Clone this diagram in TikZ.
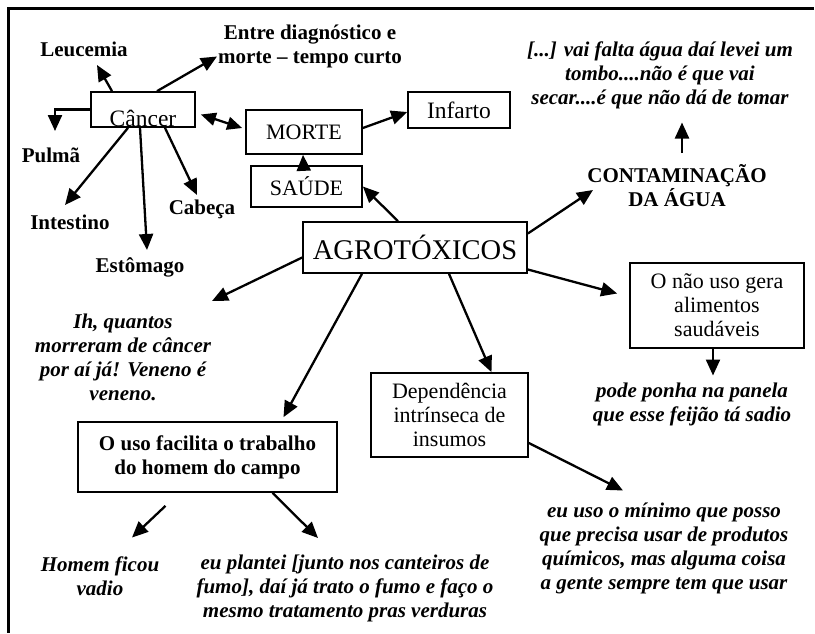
\documentclass[tikz,border=0pt]{standalone}
\usepackage{fontspec}
\setmainfont{Liberation Serif}
\usetikzlibrary{arrows.meta}

\begin{document}
\begin{tikzpicture}
[x=1pt,y=-1pt,line width=2.3pt,%
  every node/.style={align=center,inner sep=0pt},%
  box/.style={draw,line width=1.7pt,font=\fontsize{22}{24}\selectfont},%
  term/.style={font=\fontsize{21}{24}\selectfont\bfseries},%
  speech/.style={font=\fontsize{21}{24}\selectfont\bfseries\itshape},%
  arr/.style={-{Triangle[length=16pt,width=14pt]}},%
  darr/.style={{Triangle[length=15pt,width=13pt]}-{Triangle[length=15pt,width=13pt]}}]
\path[use as bounding box] (0,0) rectangle (815,633);
\draw[line width=3pt] (814,8) -- (8,8) -- (8,633);
% boxes
\node[box,minimum width=104pt,text height=34pt,text depth=1pt,font=\fontsize{23.5}{24}\selectfont] (cancer) at (143,109.5) {Câncer};
\node[box,minimum width=116pt,minimum height=44pt] (morte) at (304,132) {MORTE};
\node[box,minimum width=111pt,minimum height=41pt] (saude) at (306.5,186.5) {SAÚDE};
\node[box,minimum width=102pt,minimum height=36pt,font=\fontsize{23.5}{24}\selectfont] (infarto) at (459,110) {Infarto};
\node[box,minimum width=224pt,minimum height=51pt,font=\fontsize{28.5}{30}\selectfont] (agro) at (415,247.5) {AGROTÓXICOS};
\node[box,minimum width=174pt,minimum height=85pt] (naouso) at (717,305.5) {O não uso gera\\alimentos\\saudáveis};
\node[box,minimum width=157pt,minimum height=84pt] (dep) at (449.5,415) {Dependência\\intrínseca de\\insumos};
\node[box,minimum width=259pt,minimum height=70pt,font=\fontsize{21}{24}\selectfont\bfseries] (uso) at (207.5,457) {O uso facilita o trabalho\\do homem do campo};
% texts
\node[term] (leucemia) at (84,49) {Leucemia};
\node[term] (entre) at (310,46.5) {Entre diagnóstico e\\morte -- tempo curto};
\node[term] (pulma) at (51,155) {Pulmã};
\node[term] (intestino) at (70,222) {Intestino};
\node[term] (estomago) at (140,267) {Estômago};
\node[term] (cabeca) at (202,209) {Cabeça};
\node[term] (contam) at (677,186) {CONTAMINAÇÃO\\DA ÁGUA};
\node[speech] (agua) at (660,75.5) {[...] vai falta água daí levei um\\tombo....não é que vai\\secar....é que não dá de tomar};
\node[speech] (pode) at (692,404.5) {pode ponha na panela\\que esse feijão tá sadio};
\node[speech] (euuso) at (664,548.5) {eu uso o mínimo que posso\\que precisa usar de produtos\\químicos, mas alguma coisa\\a gente sempre tem que usar};
\node[speech] (ih) at (123,357) {Ih, quantos\\morreram de câncer\\por aí já! Veneno é\\veneno.};
\node[speech] (homem) at (100,576.5) {Homem ficou\\vadio};
\node[speech] (plantei) at (345,588) {eu plantei [junto nos canteiros de\\fumo], daí já trato o fumo e faço o\\mesmo tratamento pras verduras};
% connectors
\draw[arr] ([xshift=-31pt]cancer.north) -- ([shift={(13,16)}]leucemia.center);
\draw[arr] ([xshift=14pt]cancer.north) -- ([shift={(-93,10)}]entre.center);
\draw[arr] (cancer.west) -| ([shift={(4,-24)}]pulma.center);
\draw[arr] ([xshift=-15pt]cancer.south) -- ([shift={(-5,-17)}]intestino.center);
\draw[arr] ([xshift=-3pt]cancer.south) -- ([shift={(7,-17)}]estomago.center);
\draw[arr] ([xshift=22pt]cancer.south) -- ([shift={(-5,-14)}]cabeca.center);
\draw[darr] ([shift={(5,5)}]cancer.east) -- ([shift={(-3,-4)}]morte.west);
\draw[arr] ([xshift=-3pt]saude.north) -- ([xshift=-1pt]morte.south);
\draw[arr] ([yshift=4pt]morte.east) -- ([yshift=-2pt]infarto.west);
\draw[arr] ([xshift=-17pt]agro.north) -- (saude.east);
\draw[arr] ([yshift=14pt]agro.east) -- ([shift={(-84,4)}]contam.center);
\draw[arr] ([shift={(5,-33)}]contam.center) -- ([shift={(22,47)}]agua.center);
\draw[arr] ([yshift=-22pt]agro.east) -- ([shift={(-12,-12)}]naouso.west);
\draw[arr] ([xshift=-4pt]naouso.south) -- ([shift={(21,-29)}]pode.center);
\draw[arr] ([xshift=34pt]agro.south) -- ([xshift=42pt]dep.north);
\draw[arr] ([yshift=-28pt]dep.east) -- ([shift={(-41,-58)}]euuso.center);
\draw[arr] ([yshift=-10pt]agro.west) -- ([shift={(89,-56)}]ih.center);
\draw[arr] ([xshift=-53pt]agro.south) -- ([shift={(76,-4)}]uso.north);
\draw[arr] ([shift={(-42,13)}]uso.south) -- ([shift={(32,-39)}]homem.center);
\draw[arr] ([xshift=65pt]uso.south) -- ([shift={(-27,-50)}]plantei.center);
\end{tikzpicture}
\end{document}
